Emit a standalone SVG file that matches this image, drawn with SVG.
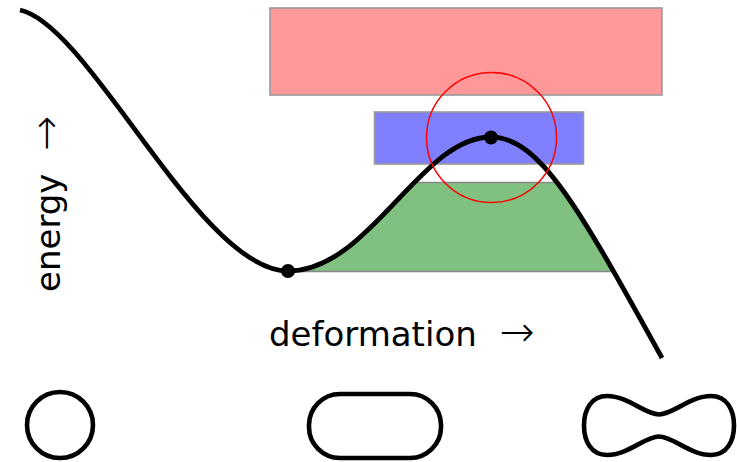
<svg xmlns="http://www.w3.org/2000/svg" width="737" height="462" viewBox="0 0 737 462">
  <style>
    .box { stroke: #999999; stroke-width: 1.6; }
    .curve { fill: none; stroke: #000000; stroke-width: 4.8; stroke-linejoin: round; }
    .shape { fill: none; stroke: #000000; stroke-width: 4.6; }
    .label { font-family: "DejaVu Sans", "Liberation Sans", sans-serif; font-size: 34px; fill: #000000; }
    .arrow { font-family: "DejaVu Sans", sans-serif; font-weight: 200; font-size: 42px; }
    .gline { stroke: #888888; stroke-width: 1.6; fill: none; }
  </style>
  <defs>
    <clipPath id="band">
      <rect x="280" y="182.5" width="400" height="89"/>
    </clipPath>
  </defs>

  <g id="level-red">
    <rect class="box" x="270" y="8" width="392" height="87" fill="#ff9999"/>
  </g>
  <g id="level-blue">
    <rect class="box" x="374.5" y="112" width="209" height="52" fill="#8080ff"/>
  </g>
  <g id="level-green">
    <path clip-path="url(#band)" fill="#80c080" d="M288,271 C370,271 420,137 491,137 C540,137 580,210 662,358 L662,420 L288,420 Z"/>
    <line class="gline" x1="414" y1="182.5" x2="557" y2="182.5"/>
    <line class="gline" x1="288" y1="271.5" x2="614" y2="271.5"/>
  </g>

  <g id="connectors">
    <path class="curve" d="M20,10 C90,25 200,271 288,271 C370,271 420,137 491,137 C540,137 580,210 662,358"/>
  </g>

  <g id="barrier-circle">
    <circle cx="491.5" cy="137.5" r="65" fill="none" stroke="#ff0000" stroke-width="1.5"/>
  </g>
  <g id="ground-state">
    <circle cx="288" cy="271" r="7" fill="#000000"/>
  </g>
  <g id="saddle-point">
    <circle cx="491" cy="137.5" r="7" fill="#000000"/>
  </g>

  <g id="axis-energy">
    <text class="label" transform="translate(60,292) rotate(-90)">energy <tspan class="arrow" dx="12">→</tspan></text>
  </g>
  <g id="axis-deformation">
    <text class="label" x="269" y="346">deformation <tspan class="arrow" dx="12">→</tspan></text>
  </g>

  <g id="shape-sphere">
    <circle class="shape" cx="60" cy="425" r="33"/>
  </g>
  <g id="shape-elongated">
    <rect class="shape" x="309" y="394" width="132" height="64" rx="31" ry="31"/>
  </g>
  <g id="shape-necked">
    <path class="shape" d="M659,414.5 C645,414.5 628,396 607,396 C591,396 584,410 584,425.5 C584,441 591,455 607,455 C628,455 645,436.5 659,436.5 C673,436.5 690,455 711,455 C727,455 734,441 734,425.5 C734,410 727,396 711,396 C690,396 673,414.5 659,414.5 Z"/>
  </g>
</svg>
